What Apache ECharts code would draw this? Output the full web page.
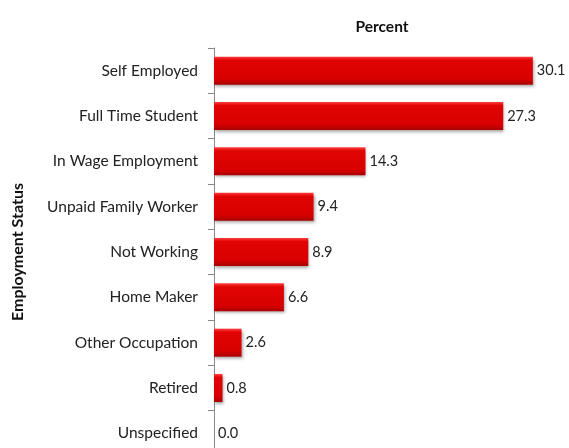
<!DOCTYPE html>
<html>
<head>
<meta charset="utf-8">
<script src="https://cdn.jsdelivr.net/npm/echarts@6/dist/echarts.min.js"></script>
<style>
  html, body { margin: 0; padding: 0; background: #fff; }
</style>
</head>
<body>
<div id="container" style="width:569px; height:448px"></div>
<script>
var categories = [
  "Self Employed",
  "Full Time Student",
  "In Wage Employment",
  "Unpaid Family Worker",
  "Not Working",
  "Home Maker",
  "Other Occupation",
  "Retired",
  "Unspecified"
];
var percentValues = [30.1, 27.3, 14.3, 9.4, 8.9, 6.6, 2.6, 0.8, 0.0];

var fontFam = "Lato, 'Open Sans', sans-serif";

var barColor = new echarts.graphic.LinearGradient(0, 0, 0, 1, [
  { offset: 0, color: "#ff4040" },
  { offset: 0.12, color: "#e20404" },
  { offset: 0.8, color: "#d80000" },
  { offset: 1, color: "#a80000" }
]);

var option = {
  backgroundColor: "#fff",
  animation: false,
  title: {
    text: "Percent",
    left: 377,
    top: 14,
    textAlign: "center",
    textStyle: {
      fontFamily: fontFam,
      fontWeight: "bold",
      fontSize: 15.5,
      color: "#111"
    }
  },
  grid: {
    left: 214,
    top: 48,
    width: 339,
    height: 408,
    containLabel: false,
    outerBoundsMode: "none"
  },
  xAxis: {
    type: "value",
    min: 0,
    max: 32,
    show: false
  },
  yAxis: {
    type: "category",
    data: categories,
    inverse: true,
    name: "Employment Status",
    nameLocation: "middle",
    nameGap: 188,
    nameRotate: 90,
    nameTextStyle: {
      fontFamily: fontFam,
      fontWeight: "bold",
      fontSize: 16,
      color: "#111"
    },
    axisLine: { show: true, lineStyle: { color: "#888", width: 1 } },
    axisTick: { show: true, length: 6, lineStyle: { color: "#888" } },
    axisLabel: {
      margin: 16,
      fontFamily: fontFam,
      fontSize: 15.5,
      color: "#222"
    },
    splitLine: { show: false }
  },
  series: [
    {
      type: "bar",
      data: percentValues,
      barWidth: 28,
      itemStyle: {
        color: barColor,
        shadowColor: "rgba(0,0,0,0.35)",
        shadowBlur: 3,
        shadowOffsetX: 1,
        shadowOffsetY: 2
      },
      label: {
        show: true,
        position: "right",
        distance: 4,
        fontFamily: fontFam,
        fontSize: 14.5,
        color: "#222",
        formatter: function (p) { return p.value.toFixed(1); }
      }
    }
  ]
};

var myChart = echarts.init(document.getElementById("container"));
myChart.setOption(option, true);
</script>
</body>
</html>
